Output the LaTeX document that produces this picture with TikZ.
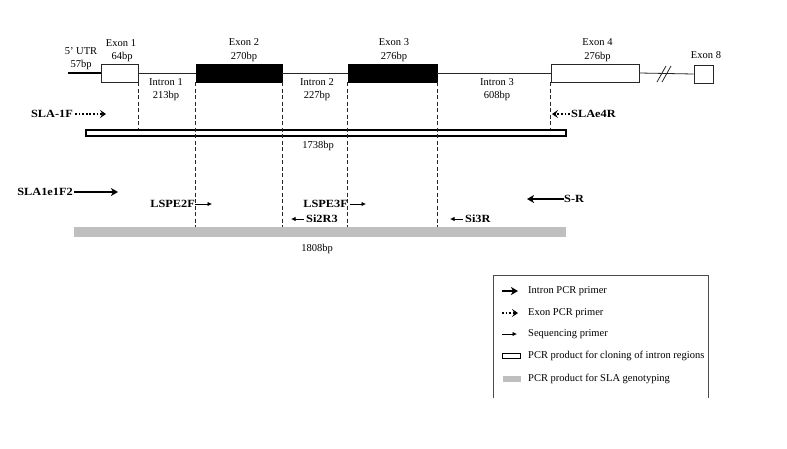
\documentclass[tikz,border=0pt]{standalone}
\usepackage{fontspec}
\setmainfont{Liberation Serif}
\newfontfamily\widebf[FakeStretch=1.12]{Liberation Serif}
\usetikzlibrary{arrows.meta}
\begin{document}
\begin{tikzpicture}[x=1pt,y=-1pt,
  lbl/.style={font=\fontsize{10.5}{11}\selectfont, inner sep=0pt},
  plbl/.style={font=\widebf\fontsize{11}{12}\selectfont\bfseries, inner sep=0pt},
  leg/.style={font=\fontsize{10.5}{11}\selectfont, inner sep=0pt, anchor=west},
  exonw/.style={draw=black!85, fill=white, line width=0.9pt, minimum height=18pt, inner sep=0pt},
  exonb/.style={draw=black, fill=black, minimum height=18pt, inner sep=0pt},
  gline/.style={draw=black!85, line width=0.8pt},
  cut/.style={draw=black!85, line width=0.8pt, dash pattern=on 4pt off 2.5pt},
  intronp/.style={line width=1.5pt, -{Stealth[length=7pt,width=8pt,inset=2pt]}},
  exonp/.style={line width=1.5pt, dash pattern=on 1.8pt off 1.8pt, -{Stealth[length=6pt,width=8pt,inset=2.5pt]}},
  seqp/.style={line width=0.8pt, -{Latex[length=4.5pt,width=4.5pt]}},
  whitebox/.style={draw=black, line width=1.6pt, fill=white, minimum height=6pt, inner sep=0pt},
  graybox/.style={fill=black!25, draw=none, minimum height=10pt, inner sep=0pt}
]
\useasboundingbox (0,0) rectangle (787,448);

% gene structure
\coordinate (utr) at (68,73);
\node[exonw, minimum width=37pt] (e1) at (119.5,73) {};
\node[exonb, minimum width=86pt] (e2) at (239,73) {};
\node[exonb, minimum width=89pt] (e3) at (392.5,73) {};
\node[exonw, minimum width=88pt] (e4) at (595,73) {};
\node[exonw, minimum width=19pt] (e8) at (703.5,74) {};
\draw[line width=2.4pt] (utr) -- (e1.west);
\draw[gline] (e1.east) -- (e2.west);
\draw[gline] (e2.east) -- (e3.west);
\draw[gline] (e3.east) -- (e4.west);
\draw[gline] (e4.east) -- (e8.west);
\coordinate (s1a) at (657,82); \coordinate (s1b) at (666,66);
\coordinate (s2a) at (662,82); \coordinate (s2b) at (671,66);
\draw[gline] (s1a) -- (s1b);
\draw[gline] (s2a) -- (s2b);

% gene labels
\node[lbl] (t5utr) at (81,51) {5' UTR};
\node[lbl] (t57) at (81,65) {57bp};
\node[lbl] (tex1) at (121,43) {Exon 1};
\node[lbl] (tex1b) at (122,57) {64bp};
\node[lbl] (tex2) at (244,42) {Exon 2};
\node[lbl] (tex2b) at (244,57) {270bp};
\node[lbl] (tex3) at (394,42) {Exon 3};
\node[lbl] (tex3b) at (394,57) {276bp};
\node[lbl] (tex4) at (597.5,42) {Exon 4};
\node[lbl] (tex4b) at (597.5,57) {276bp};
\node[lbl] (tex8) at (706,55) {Exon 8};
\node[lbl] (tin1) at (166,82) {Intron 1};
\node[lbl] (tin1b) at (166,96) {213bp};
\node[lbl] (tin2) at (317,82) {Intron 2};
\node[lbl] (tin2b) at (317,96) {227bp};
\node[lbl] (tin3) at (497,82) {Intron 3};
\node[lbl] (tin3b) at (497,96) {608bp};

% PCR products
\node[whitebox, minimum width=480pt] (p1) at (326,133) {};
\node[graybox, minimum width=492pt] (p2) at (320,232) {};
\node[lbl] (tp1) at (318,146) {1738bp};
\node[lbl] (tp2) at (317,249) {1808bp};

% dashed boundaries
\coordinate (d1) at (e1.south east |- p1.north);
\coordinate (d6) at (e4.south west |- p1.north);
\draw[cut] (e1.south east) -- (d1);
\draw[cut] (e2.south west) -- (e2.south west |- p2.north);
\draw[cut] (e2.south east) -- (e2.south east |- p2.north);
\draw[cut] (e3.south west) -- (e3.south west |- p2.north);
\draw[cut] (e3.south east) -- (e3.south east |- p2.north);
\draw[cut] (e4.south west) -- (d6);

% primers
\node[plbl, anchor=east] (sla1f) at (73,114) {SLA-1F};
\coordinate (sla1fe) at (106,114);
\draw[exonp] ([xshift=2pt]sla1f.east) -- (sla1fe);
\node[plbl, anchor=west] (slae4r) at (571,114) {SLAe4R};
\coordinate (slae4re) at (552,114);
\draw[exonp] ([xshift=-1pt]slae4r.west) -- (slae4re);

\node[plbl, anchor=east] (sla1e1f2) at (73,192) {SLA1e1F2};
\coordinate (sla1e1f2e) at (118,192);
\draw[intronp] ([xshift=1pt]sla1e1f2.east) -- (sla1e1f2e);
\node[plbl, anchor=west] (sr) at (564,199) {S-R};
\coordinate (sre) at (527,199);
\draw[intronp] (sr.west) -- (sre);

\node[plbl, anchor=east] (lspe2f) at (195,204) {LSPE2F};
\coordinate (lspe2fe) at (212,204);
\draw[seqp] (lspe2f.east) -- (lspe2fe);
\node[plbl, anchor=east] (lspe3f) at (348,204) {LSPE3F};
\coordinate (lspe3fe) at (366,204);
\draw[seqp] ([xshift=2pt]lspe3f.east) -- (lspe3fe);
\node[plbl, anchor=west] (si2r3) at (306,219) {Si2R3};
\coordinate (si2r3e) at (291,219);
\draw[seqp] ([xshift=-2pt]si2r3.west) -- (si2r3e);
\node[plbl, anchor=west] (si3r) at (465,219) {Si3R};
\coordinate (si3re) at (450,219);
\draw[seqp] ([xshift=-2pt]si3r.west) -- (si3re);

% legend
\coordinate (lgA) at (493,398); \coordinate (lgB) at (493,275);
\coordinate (lgC) at (708,275); \coordinate (lgD) at (708,398);
\draw[black!70, line width=0.8pt] (lgA) -- (lgB) -- (lgC) -- (lgD);
\coordinate (l1a) at (502,291); \coordinate (l1b) at (518,291);
\draw[intronp] (l1a) -- (l1b);
\node[leg] (lt1) at (528,291) {Intron PCR primer};
\coordinate (l2a) at (502,313); \coordinate (l2b) at (518,313);
\draw[exonp] (l2a) -- (l2b);
\node[leg] (lt2) at (528,313) {Exon PCR primer};
\coordinate (l3a) at (502,334); \coordinate (l3b) at (517,334);
\draw[seqp] (l3a) -- (l3b);
\node[leg] (lt3) at (528,334) {Sequencing primer};
\node[whitebox, line width=1pt, minimum width=18pt, minimum height=5pt] (lb4) at (511.5,356) {};
\node[leg] (lt4) at (528,356) {PCR product for cloning of intron regions};
\node[graybox, minimum width=18pt, minimum height=6pt] (lb5) at (511.5,379) {};
\node[leg] (lt5) at (528,379) {PCR product for SLA genotyping};
\end{tikzpicture}
\end{document}
